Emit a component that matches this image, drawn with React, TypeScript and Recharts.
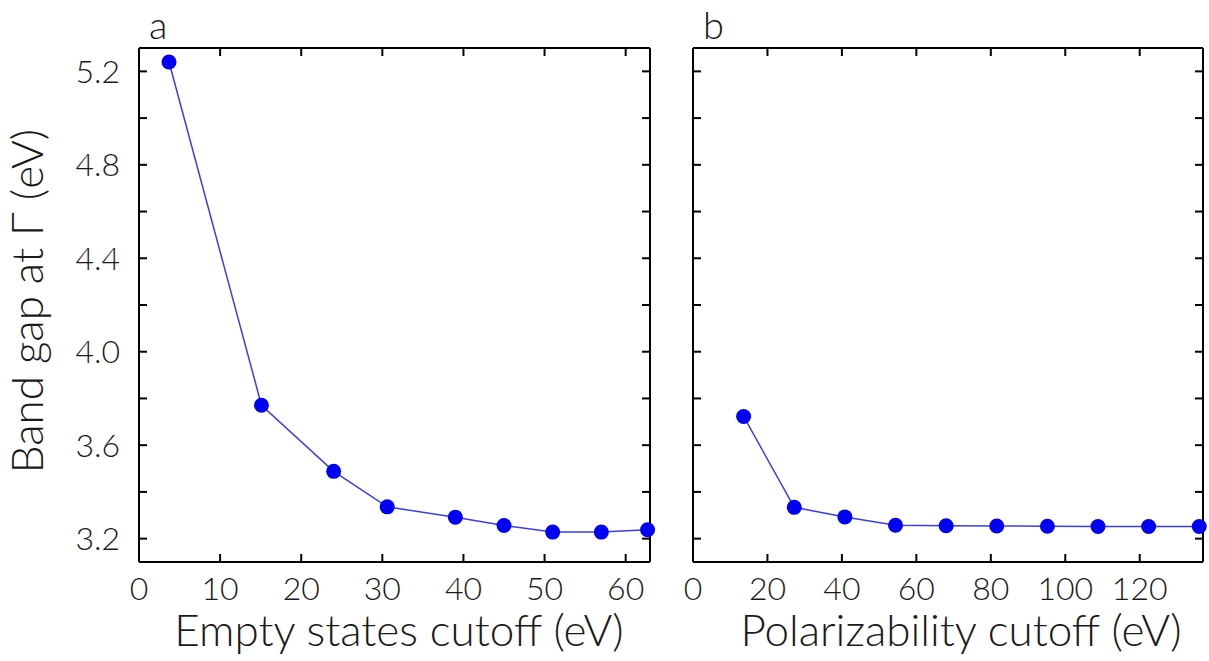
import React from 'react';
import { LineChart, Line, XAxis, YAxis } from 'recharts';

// panel a: band gap vs. empty states cutoff
const emptyCutoff = [3.7, 15.1, 24.0, 30.6, 39.0, 45.0, 51.0, 57.0, 62.7];
const emptyGap = [5.24, 3.771, 3.488, 3.336, 3.292, 3.256, 3.228, 3.228, 3.238];

// panel b: band gap vs. polarizability cutoff
const polCutoff = [13.6, 27.2, 40.8, 54.4, 68.0, 81.6, 95.2, 108.8, 122.4, 136.0];
const polGap = [3.723, 3.334, 3.293, 3.257, 3.255, 3.254, 3.253, 3.252, 3.252, 3.252];

const gapTicks = [3.2, 3.4, 3.6, 3.8, 4.0, 4.2, 4.4, 4.6, 4.8, 5.0, 5.2];
const gapLabels = [3.2, 3.6, 4.0, 4.4, 4.8, 5.2];
const emptyTicks = [0, 10, 20, 30, 40, 50, 60];
const polTicks = [0, 20, 40, 60, 80, 100, 120];

const emptyData = emptyCutoff.map((x, i) => ({ x, gap: emptyGap[i] }));
const polData = polCutoff.map((x, i) => ({ x, gap: polGap[i] }));

const FONT = 'Lato, "Open Sans", sans-serif';
const INK = '#1a1a1a';
const LINE = '#3c3cec';
const DOT = '#0000f2';
const GAP_DOMAIN: [number, number] = [3.1, 5.3];

const tickFont = { fontSize: 32, fontFamily: FONT, fontWeight: 300, fill: INK };
const frameLine = { stroke: '#000', strokeWidth: 2 };
const blank = () => '';

const gapFormat = (v: number) =>
  gapLabels.some((g) => Math.abs(g - v) < 1e-6) ? v.toFixed(1) : '';

interface PanelProps {
  data: { x: number; gap: number }[];
  xMax: number;
  xTicks: number[];
  width: number;
  leftWidth: number;
  rightMargin: number;
  showYLabels: boolean;
}

// mirrored axes draw the box and the inward ticks on all four sides,
// the plain ones only carry the tick labels
function Panel({ data, xMax, xTicks, width, leftWidth, rightMargin, showYLabels }: PanelProps) {
  const xDomain: [number, number] = [0, xMax];
  return (
    <LineChart
      width={width}
      height={661}
      data={data}
      margin={{ top: 48, right: rightMargin, bottom: 0, left: 0 }}
    >
      <XAxis
        xAxisId="x"
        dataKey="x"
        type="number"
        domain={xDomain}
        ticks={xTicks}
        height={99}
        tickSize={0}
        tickMargin={15}
        axisLine={false}
        tickLine={false}
        tick={tickFont}
        interval={0}
      />
      <XAxis
        xAxisId="xb"
        dataKey="x"
        type="number"
        mirror
        domain={xDomain}
        ticks={xTicks}
        height={20}
        tickSize={8}
        axisLine={frameLine}
        tickLine={frameLine}
        tickFormatter={blank}
        interval={0}
      />
      <XAxis
        xAxisId="xt"
        orientation="top"
        dataKey="x"
        type="number"
        mirror
        domain={xDomain}
        ticks={xTicks}
        height={20}
        tickSize={8}
        axisLine={frameLine}
        tickLine={frameLine}
        tickFormatter={blank}
        interval={0}
      />
      <YAxis
        yAxisId="y"
        dataKey="gap"
        type="number"
        domain={GAP_DOMAIN}
        ticks={gapTicks}
        width={leftWidth}
        tickSize={0}
        tickMargin={19}
        axisLine={false}
        tickLine={false}
        tick={tickFont}
        tickFormatter={showYLabels ? gapFormat : blank}
        interval={0}
      />
      <YAxis
        yAxisId="yl"
        dataKey="gap"
        type="number"
        mirror
        domain={GAP_DOMAIN}
        ticks={gapTicks}
        width={20}
        tickSize={8}
        axisLine={frameLine}
        tickLine={frameLine}
        tickFormatter={blank}
        interval={0}
      />
      <YAxis
        yAxisId="yr"
        dataKey="gap"
        orientation="right"
        type="number"
        mirror
        domain={GAP_DOMAIN}
        ticks={gapTicks}
        width={20}
        tickSize={8}
        axisLine={frameLine}
        tickLine={frameLine}
        tickFormatter={blank}
        interval={0}
      />
      <Line
        xAxisId="x"
        yAxisId="y"
        dataKey="gap"
        type="linear"
        stroke={LINE}
        strokeWidth={1.5}
        dot={{ r: 7.5, fill: DOT, stroke: DOT, strokeWidth: 0 }}
        activeDot={false}
        isAnimationActive={false}
      />
    </LineChart>
  );
}

const textStyle = { fontFamily: FONT, fontWeight: 300, fill: INK } as const;

export default function App() {
  return (
    <div style={{ position: 'absolute', left: 0, top: 0, width: 1209, height: 661, background: '#fff' }}>
      <div style={{ position: 'absolute', left: 0, top: 0 }}>
        <Panel data={emptyData} xMax={63} xTicks={emptyTicks} width={660} leftWidth={139} rightMargin={10} showYLabels />
      </div>
      <div style={{ position: 'absolute', left: 660, top: 0 }}>
        <Panel data={polData} xMax={137} xTicks={polTicks} width={549} leftWidth={33} rightMargin={6} showYLabels={false} />
      </div>
      <svg width={1209} height={661} style={{ position: 'absolute', left: 0, top: 0, pointerEvents: 'none' }}>
        <text x={149} y={39} fontSize={38} {...textStyle}>a</text>
        <text x={703} y={39} fontSize={38} {...textStyle}>b</text>
        <text transform="translate(43,301) rotate(-90)" textAnchor="middle" fontSize={44} {...textStyle}>
          Band gap at Γ (eV)
        </text>
        <text x={399} y={646} textAnchor="middle" fontSize={44} {...textStyle}>
          Empty states cutoff (eV)
        </text>
        <text x={961} y={646} textAnchor="middle" fontSize={44} {...textStyle}>
          Polarizability cutoff (eV)
        </text>
      </svg>
    </div>
  );
}
